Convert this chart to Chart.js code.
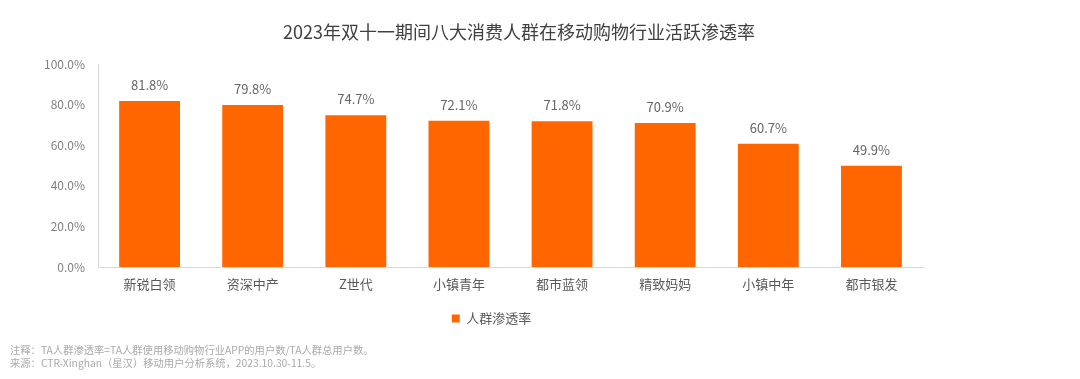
<!DOCTYPE html>
<html>
<head>
<meta charset="utf-8">
<script src="https://cdn.jsdelivr.net/npm/chart.js@4/dist/chart.umd.min.js"></script>
<style>
  html, body { margin: 0; padding: 0; background: #ffffff; }
  #wrap { position: relative; width: 1080px; height: 379px; overflow: hidden; font-family: 'Noto Sans CJK SC', 'Noto Sans', sans-serif; }
  #c { position: absolute; left: 0; top: 0; }
  #title { position: absolute; left: 0; top: 19px; width: 1038px; text-align: center; font-size: 18px; line-height: 24px; color: #404040; }
  #notes { position: absolute; left: 10px; top: 343px; font-size: 10.3px; line-height: 13px; color: #aaaaaa; white-space: nowrap; }
</style>
</head>
<body>
<div id="wrap">
  <canvas id="c" width="1080" height="379"></canvas>
  <div id="title">2023年双十一期间八大消费人群在移动购物行业活跃渗透率</div>
  <div id="notes">注释：TA人群渗透率=TA人群使用移动购物行业APP的用户数/TA人群总用户数。<br>来源：CTR-Xinghan（星汉）移动用户分析系统，2023.10.30-11.5。</div>
</div>
<script>
const categories = ['新锐白领', '资深中产', 'Z世代', '小镇青年', '都市蓝领', '精致妈妈', '小镇中年', '都市银发'];
const penetration = [81.8, 79.8, 74.7, 72.1, 71.8, 70.9, 60.7, 49.9];
const seriesName = '人群渗透率';
const yTickValues = [0, 20, 40, 60, 80, 100];

const FONT = "'Noto Sans CJK SC', 'Noto Sans', sans-serif";

const valueLabels = {
  id: 'valueLabels',
  afterDatasetsDraw(chart) {
    const ctx = chart.ctx;
    const meta = chart.getDatasetMeta(0);
    ctx.save();
    ctx.font = '13px ' + FONT;
    ctx.fillStyle = '#666666';
    ctx.textAlign = 'center';
    ctx.textBaseline = 'middle';
    meta.data.forEach((bar, i) => {
      ctx.fillText(penetration[i].toFixed(1) + '%', bar.x, bar.y - 16);
    });
    ctx.restore();
  }
};

const legendShift = {
  id: 'legendShift',
  afterLayout(chart) {
    if (chart.legend) {
      chart.legend.left += 30;
      chart.legend.right += 30;
    }
  }
};

new Chart(document.getElementById('c'), {
  type: 'bar',
  data: {
    labels: categories,
    datasets: [{
      label: seriesName,
      data: penetration,
      backgroundColor: '#ff6600',
      borderWidth: 0,
      categoryPercentage: 1.0,
      barPercentage: 0.59
    }]
  },
  options: {
    responsive: false,
    animation: false,
    layout: { padding: { left: 0, right: 157, top: 64, bottom: 44 } },
    plugins: {
      title: { display: false },
      tooltip: { enabled: false },
      legend: {
        display: true,
        position: 'bottom',
        labels: {
          boxWidth: 8,
          boxHeight: 8,
          padding: 10,
          color: '#595959',
          font: { family: FONT, size: 13 }
        }
      }
    },
    scales: {
      x: {
        grid: { display: false, drawTicks: false },
        border: { display: true, color: '#d9d9d9', width: 1 },
        ticks: { color: '#595959', font: { family: FONT, size: 13 }, padding: 9, maxRotation: 0, autoSkip: false },
        afterFit(scale) { scale.height = 35; }
      },
      y: {
        min: 0,
        max: 100,
        afterBuildTicks(scale) { scale.ticks = yTickValues.map(v => ({ value: v })); },
        grid: { display: false, drawTicks: false },
        border: { display: true, color: '#d9d9d9', width: 1 },
        ticks: {
          color: '#808080',
          font: { family: FONT, size: 12 },
          padding: 13,
          callback: (v) => Number(v).toFixed(1) + '%'
        },
        afterFit(scale) { scale.width = 98; }
      }
    }
  },
  plugins: [valueLabels, legendShift]
});
</script>
</body>
</html>
